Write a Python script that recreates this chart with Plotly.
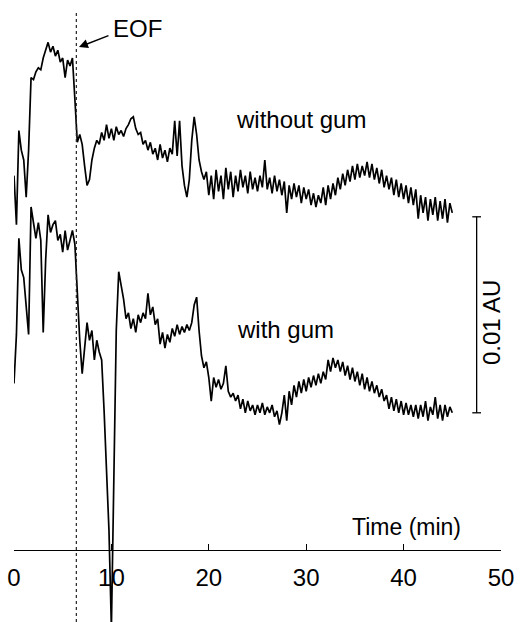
import plotly.graph_objects as go

# ---- data (absorbance in mAU, arbitrary vertical offsets as in the figure) ----
t_step_min = 0.25
without_gum = [
    19.1, 16.6, 21.4, 20.4, 19.9, 18.0, 20.4, 24.1, 24.0, 24.4,
    24.6, 24.5, 25.1, 25.5, 25.9, 25.4, 25.7, 25.2, 25.5, 24.9,
    25.1, 24.1, 25.0, 24.7, 25.1, 23.0, 20.8, 21.2, 20.7, 19.6,
    18.6, 18.9, 19.9, 20.5, 20.9, 20.7, 21.3, 20.9, 21.7, 21.0,
    21.5, 20.9, 21.6, 21.2, 21.4, 21.1, 21.5, 21.7, 22.0, 22.1,
    21.5, 21.2, 21.3, 20.7, 20.9, 20.4, 20.8, 20.2, 20.5, 19.9,
    20.7, 20.0, 20.4, 19.8, 20.5, 20.2, 21.9, 20.1, 21.9, 19.6,
    18.6, 18.0, 18.9, 20.9, 22.1, 21.2, 19.9, 19.3, 18.9, 19.3,
    18.1, 19.1, 17.9, 19.4, 18.3, 19.1, 17.9, 19.5, 18.4, 19.3,
    18.0, 19.1, 18.3, 19.4, 18.5, 19.1, 18.2, 19.3, 18.4, 19.0,
    18.3, 19.1, 18.5, 19.9, 18.4, 19.0, 18.2, 19.1, 18.3, 18.9,
    18.1, 18.8, 17.2, 18.6, 17.9, 18.7, 18.0, 18.6, 17.7, 18.5,
    17.9, 18.4, 17.6, 18.2, 17.5, 18.1, 17.7, 18.5, 17.6, 18.6,
    17.9, 18.7, 18.1, 19.0, 18.4, 19.2, 18.6, 19.4, 18.8, 19.6,
    18.9, 19.7, 19.0, 19.6, 19.1, 19.8, 19.0, 19.7, 18.9, 19.5,
    18.7, 19.4, 18.5, 19.1, 18.4, 19.0, 18.1, 18.9, 18.0, 18.7,
    17.9, 18.6, 17.7, 18.5, 17.6, 18.4, 16.9, 18.1, 17.2, 18.0,
    16.8, 17.9, 17.1, 18.0, 16.8, 17.8, 16.9, 17.9, 16.7, 17.7,
    17.2,
]
with_gum = [
    8.5, 11.0, 15.9, 14.3, 13.9, 12.2, 11.0, 17.5, 16.6, 15.9,
    16.7, 15.8, 11.1, 14.8, 17.1, 16.2, 16.6, 16.8, 15.8, 16.1,
    15.2, 16.3, 15.3, 15.8, 16.3, 15.6, 12.8, 10.7, 9.0, 10.5,
    11.6, 10.7, 11.2, 9.7, 10.7, 10.1, 9.7, 7.1, 4.1, 1.0,
    -4.0, 2.6, 11.2, 14.2, 13.5, 12.8, 11.8, 12.1, 11.3, 11.8,
    11.1, 12.0, 11.6, 12.1, 11.8, 13.1, 12.0, 12.4, 11.5, 11.8,
    10.5, 11.1, 10.3, 11.0, 10.6, 11.3, 10.9, 11.5, 11.0, 11.4,
    11.1, 11.5, 11.2, 11.6, 12.5, 12.9, 11.2, 9.9, 9.3, 9.6,
    8.8, 7.6, 8.8, 8.3, 8.7, 8.2, 8.5, 9.4, 8.1, 7.8,
    8.0, 7.6, 7.9, 7.2, 7.7, 7.0, 7.6, 7.1, 7.4, 6.9,
    7.4, 7.0, 7.5, 6.9, 7.3, 7.0, 7.4, 6.8, 7.1, 6.4,
    7.0, 7.9, 6.6, 8.1, 7.4, 8.4, 7.8, 8.6, 8.0, 8.7,
    8.1, 8.8, 8.3, 8.9, 8.4, 9.0, 8.5, 9.1, 8.7, 9.7,
    9.1, 9.8, 9.3, 9.7, 9.1, 9.6, 8.9, 9.4, 8.7, 9.3,
    8.6, 9.1, 8.4, 9.0, 8.2, 8.8, 8.1, 8.6, 8.0, 8.4,
    7.8, 8.2, 7.6, 7.9, 7.2, 7.8, 7.1, 7.7, 7.0, 7.6,
    6.9, 7.5, 6.9, 7.4, 6.8, 7.4, 6.7, 7.4, 6.8, 7.6,
    6.6, 7.3, 6.9, 7.8, 6.7, 7.4, 6.6, 7.4, 6.8, 7.3,
    7.0,
]
time_min = [i * t_step_min for i in range(len(with_gum))]

x_ticks = [0, 10, 20, 30, 40, 50]
x_tick_labels = ["0", "10", "20", "30", "40", "50"]
eof_time = 6.4           # min, dotted marker
scale_bar_mau = 10.0     # 0.01 AU
scale_bar_time = 47.5
scale_bar_base = 7.0

FONT = "Arial, Liberation Sans, Helvetica, sans-serif"
W, H = 529, 622

fig = go.Figure()
for ys in (without_gum, with_gum):
    fig.add_trace(go.Scatter(x=time_min, y=ys, mode="lines",
                             line=dict(color="black", width=1.7),
                             hoverinfo="skip", showlegend=False))

# EOF dotted line
fig.add_shape(type="line", xref="x", yref="paper", x0=eof_time, x1=eof_time,
              y0=0, y1=0.981, line=dict(color="#222", width=1.2, dash="dot"))

# scale bar
fig.add_shape(type="line", xref="x", yref="y", x0=scale_bar_time, x1=scale_bar_time,
              y0=scale_bar_base, y1=scale_bar_base + scale_bar_mau,
              line=dict(color="black", width=1.3))
for yy in (scale_bar_base, scale_bar_base + scale_bar_mau):
    fig.add_shape(type="line", xref="x", yref="y", x0=scale_bar_time - 0.45,
                  x1=scale_bar_time + 0.45, y0=yy, y1=yy,
                  line=dict(color="black", width=1.3))

def px(xp, yp):
    return xp / W, 1 - yp / H

anns = []
# arrow to EOF
anns.append(dict(x=6.67, y=25.66, xref="x", yref="y", text="", showarrow=True,
                 ax=31, ay=-12, axref="pixel", ayref="pixel", arrowhead=2,
                 arrowsize=1.2, arrowwidth=1.5, arrowcolor="black"))
for txt, (xp, yp), sz, ang in [
    ("EOF", (137, 29), 24, 0),
    ("without gum", (301, 120), 24, 0),
    ("with gum", (285, 329), 24, 0),
    ("Time (min)", (406, 527), 23, 0),
    ("0.01 AU", (491, 323), 24, -90),
]:
    xx, yy = px(xp, yp)
    anns.append(dict(x=xx, y=yy, xref="paper", yref="paper", text=txt,
                     showarrow=False, xanchor="center", yanchor="middle",
                     textangle=ang, font=dict(family=FONT, size=sz, color="black")))

fig.update_layout(
    width=W, height=H, margin=dict(l=0, r=0, t=0, b=0, autoexpand=False),
    paper_bgcolor="white", plot_bgcolor="white", showlegend=False,
    annotations=anns,
    xaxis=dict(domain=[14 / W, 501 / W], range=[0, 50], anchor="free",
               position=72 / H, showline=True, linecolor="black", linewidth=1.3,
               ticks="inside", ticklen=6, tickwidth=1.3, tickcolor="black",
               tickvals=x_ticks, ticktext=x_tick_labels, showgrid=False,
               zeroline=False, ticklabelstandoff=6, automargin=False,
               tickfont=dict(family=FONT, size=24, color="black")),
    yaxis=dict(domain=[0, 1], range=[-72 / 19.6, 550 / 19.6], visible=False,
               showgrid=False, zeroline=False, automargin=False),
)

fig.write_html("out.html")
